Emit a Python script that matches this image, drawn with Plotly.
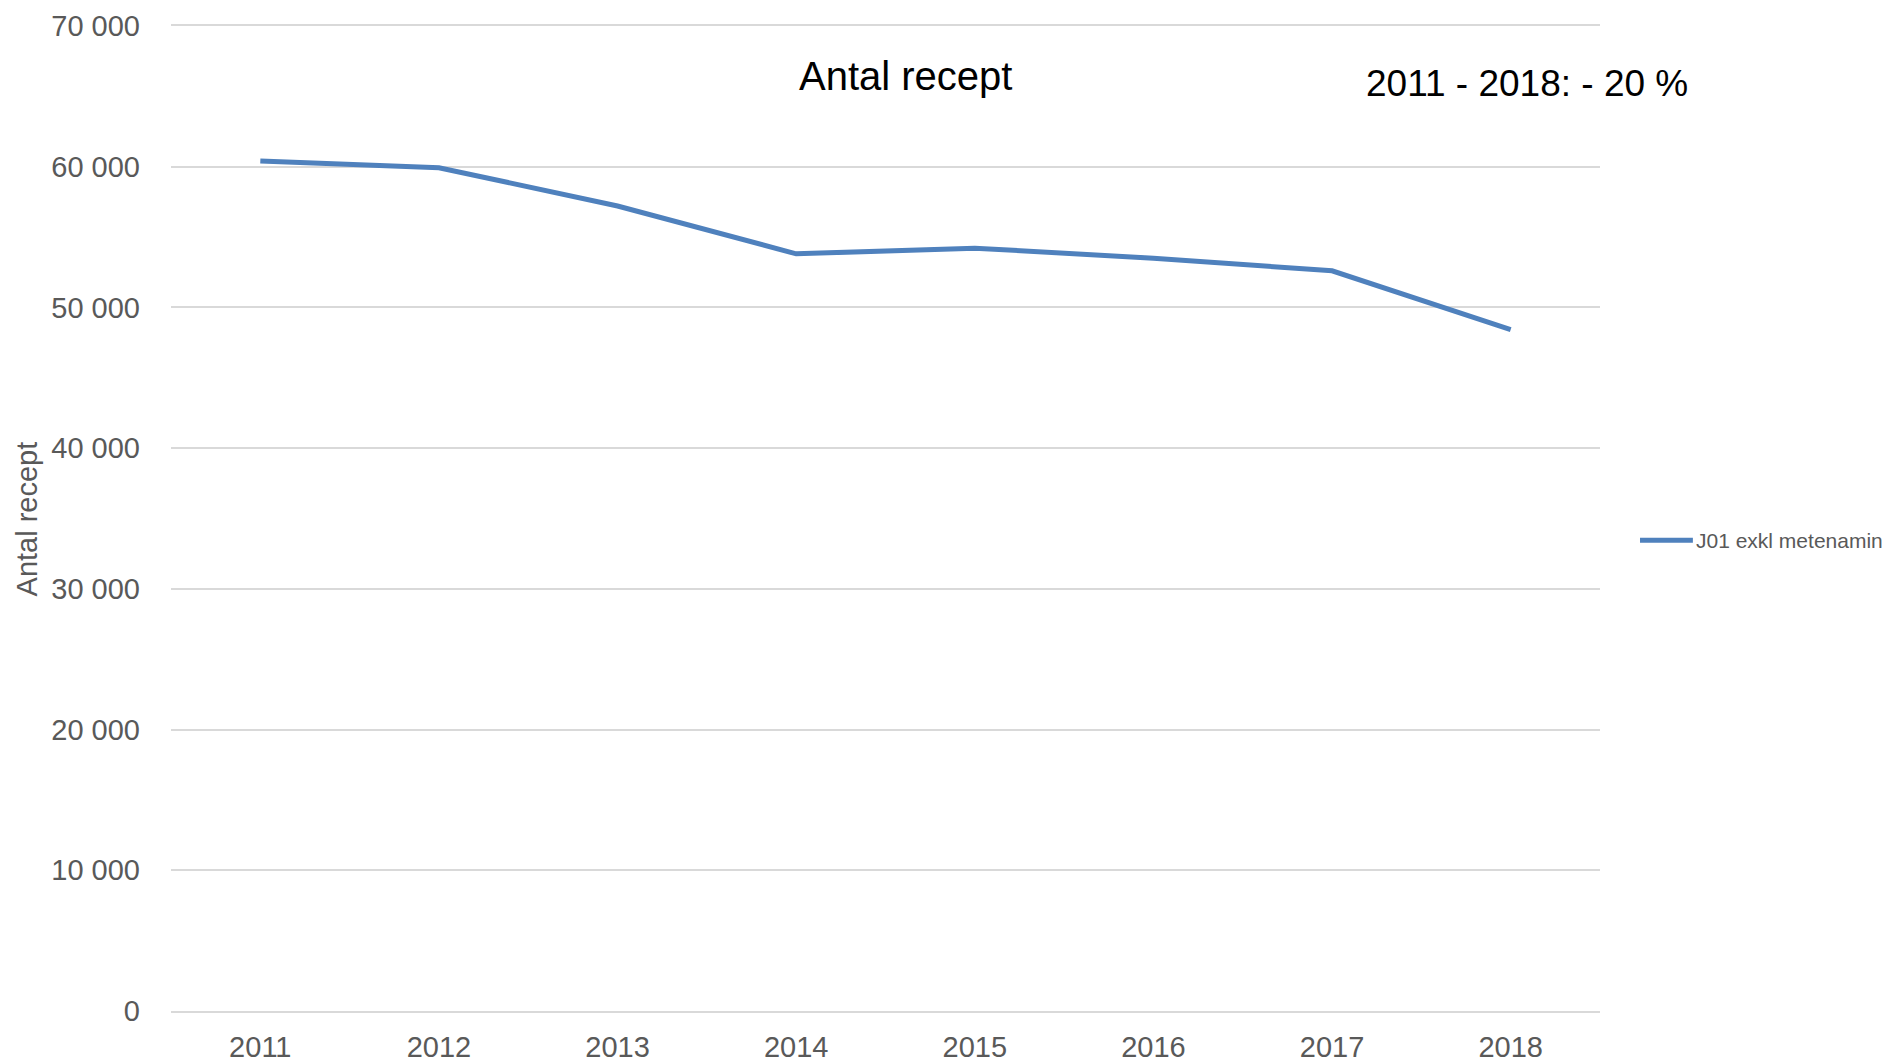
import plotly.graph_objects as go

years = ["2011", "2012", "2013", "2014", "2015", "2016", "2017", "2018"]
recept = [60400, 59930, 57210, 53810, 54210, 53500, 52600, 48420]
series_name = "J01 exkl metenamin"
y_ticks = [0, 10000, 20000, 30000, 40000, 50000, 60000, 70000]

FONT = "Liberation Sans Narrow, Arial Narrow, Liberation Sans, sans-serif"
GRAY = "#595959"
BLUE = "#4F81BD"

# the page body has an 8px margin, so the figure is sized/offset to fit the window
W, H = 1885, 1056

fig = go.Figure()
fig.add_trace(go.Scatter(
    x=years, y=recept, mode="lines", name=series_name,
    line=dict(color=BLUE, width=5), showlegend=False,
))

# legend drawn manually (line sample + text)
fig.add_shape(type="line", xref="paper", yref="paper",
              x0=1.028, x1=1.065, y0=0.478, y1=0.478,
              line=dict(color=BLUE, width=5))

fig.update_layout(
    width=W, height=H,
    margin=dict(l=163, r=293, t=18, b=53, autoexpand=False),
    plot_bgcolor="white", paper_bgcolor="white",
    separators=", ",
    font=dict(family=FONT, color=GRAY, size=29),
    showlegend=False,
    xaxis=dict(type="category", range=[-0.5, 7.5], showgrid=False,
               showline=True, mirror=True, linecolor="#d9d9d9", linewidth=1.5,
               ticks="", tickfont=dict(size=29, color=GRAY),
               ticklabelstandoff=9),
    yaxis=dict(range=[0, 70000], tickvals=y_ticks, tickformat=",d",
               showgrid=True, gridcolor="#d9d9d9", gridwidth=1.5,
               zeroline=False, showline=False, ticks="",
               tickfont=dict(size=29, color=GRAY), ticklabelstandoff=30),
    annotations=[
        dict(text="Antal recept", xref="paper", yref="paper", x=0.514, y=0.949,
             showarrow=False, xanchor="center", yanchor="middle",
             font=dict(family=FONT, size=40, color="black")),
        dict(text="2011 - 2018: - 20 %", xref="paper", yref="paper", x=0.949, y=0.942,
             showarrow=False, xanchor="center", yanchor="middle",
             font=dict(family=FONT, size=37, color="black")),
        dict(text="Antal recept", xref="paper", yref="paper", x=-0.1008, y=0.5,
             showarrow=False, textangle=-90,
             xanchor="center", yanchor="middle",
             font=dict(family=FONT, size=29, color=GRAY)),
        dict(text=series_name, xref="paper", yref="paper", x=1.066, y=0.478,
             showarrow=False, xanchor="left", yanchor="middle",
             font=dict(family=FONT, size=21, color=GRAY)),
    ],
)

fig.write_html("out.html")
